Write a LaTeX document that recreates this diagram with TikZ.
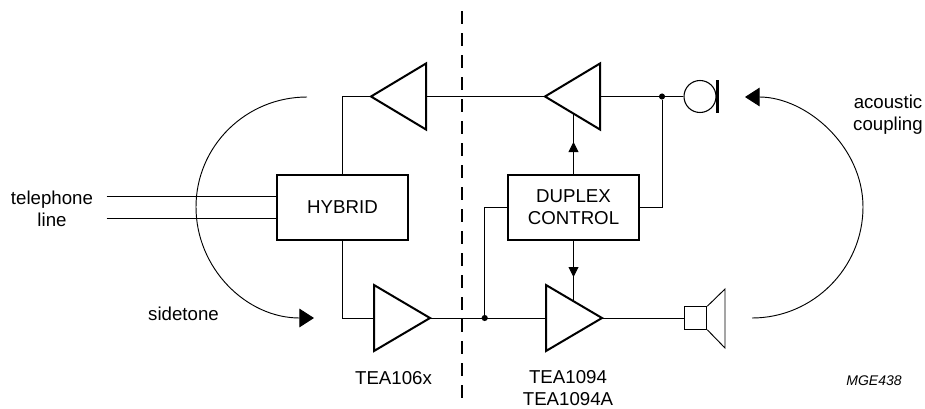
\documentclass[tikz,border=0pt]{standalone}
\usepackage{fontspec}
\setmainfont{Liberation Sans}
\usetikzlibrary{arrows.meta}
\tikzset{
 blockbox/.style={draw, line width=1.5pt, minimum width=98pt, minimum height=48.5pt, align=center, font=\fontsize{14}{16.5}\selectfont},
 lbl/.style={align=center, font=\fontsize{14}{16.5}\selectfont},
 dotnode/.style={circle, fill=black, inner sep=0pt, minimum size=4.6pt},
 wire/.style={line width=0.7pt},
 bigtip/.style={-{Triangle[length=11pt,width=14pt]}},
 smalltip/.style={-{Triangle[length=7.5pt,width=7.5pt]}}
}

\begin{document}
\begin{tikzpicture} [x=0.75pt,y=-0.75pt]
\useasboundingbox (0,0) rectangle (925,408);
\node[blockbox] (hybrid) at (342.5,207.5) {HYBRID};
\node[blockbox] (duplex) at (573.5,207.5) {DUPLEX\\CONTROL};
\node[circle, draw, line width=0.8pt, minimum size=24pt, inner sep=0pt] (mic) at (700,96.5) {};
\node[draw, line width=0.7pt, minimum size=17pt, inner sep=0pt] (spk) at (695.5,318) {};
\node[dotnode] (jmic) at (662,96.5) {};
\node[dotnode] (jline) at (484.7,318) {};
% amplifiers
\foreach \name/\base/\tip/\y in {rxa/426/371/96.5, rxb/600/545/96.5, txa/374/430/318, txb/546/602/318} {
 \coordinate (\name-base) at (\base,\y);
 \coordinate (\name-tip) at (\tip,\y);
 \draw[line width=1.5pt] (\base,\y-33) -- (\tip,\y) -- (\base,\y+33) -- cycle;
}
% signal paths
\coordinate (tela) at (106.5,196);
\coordinate (telb) at (106.5,218);
\draw[wire] (tela) -- (hybrid.west |- tela);
\draw[wire] (telb) -- (hybrid.west |- telb);
\draw[wire] (hybrid.north) |- (rxa-tip);
\draw[wire] (hybrid.south) |- (txa-base);
\draw[wire] (rxa-base) -- (rxb-tip);
\draw[wire] (txa-tip) -- (txb-base);
\draw[wire] (rxb-base) -- (mic.west);
\draw[wire] (txb-tip) -- (spk.west);
\draw[wire] (duplex.east) -| (jmic);
\draw[wire] (duplex.west) -| (jline);
% duplex control arrows
\coordinate (rxctl) at (573.5,114);
\coordinate (txctl) at (573.5,301);
\draw[wire] (duplex.north) -- (rxctl);
\draw[wire] (duplex.south) -- (txctl);
\draw[wire, smalltip] (duplex.north) -- (573.5,142);
\draw[wire, smalltip] (duplex.south) -- (573.5,277);
% microphone bar and speaker cone
\coordinate (bara) at (717.7,80);
\coordinate (barb) at (717.7,112.5);
\draw[line width=2.4pt] (bara) -- (barb);
\draw[wire] (spk.north east) -- (725,289) -- (725,348) -- (spk.south east);
% coupling curves
\coordinate (sidea) at (307,97);
\coordinate (sideb) at (314,318);
\coordinate (acoa) at (752,318);
\coordinate (acob) at (745,97);
\draw[wire, bigtip] (sidea) .. controls (246,97) and (196,146) .. (196,207) .. controls (196,268) and (246,318) .. (sideb);
\draw[wire, bigtip] (acoa) .. controls (813,318) and (863,268) .. (863,207) .. controls (863,146) and (806,97) .. (acob);
% separation
\coordinate (cuta) at (462,11);
\coordinate (cutb) at (462,399);
\draw[line width=1.3pt, dash pattern=on 10pt off 6.5pt] (cuta) -- (cutb);
% labels
\node[lbl] (tellbl) at (52,208.5) {telephone\\line};
\node[lbl] (sidelbl) at (183.5,313.5) {sidetone};
\node[lbl] (acolbl) at (888,115) {acoustic\\coupling};
\node[lbl] (txalbl) at (393.5,378) {TEA106x};
\node[lbl] (txblbl) at (568,388) {TEA1094\\TEA1094A};
\node[font=\fontsize{10.5}{12}\selectfont\itshape] (reflbl) at (874,381) {MGE438};
\end{tikzpicture}
\end{document}
